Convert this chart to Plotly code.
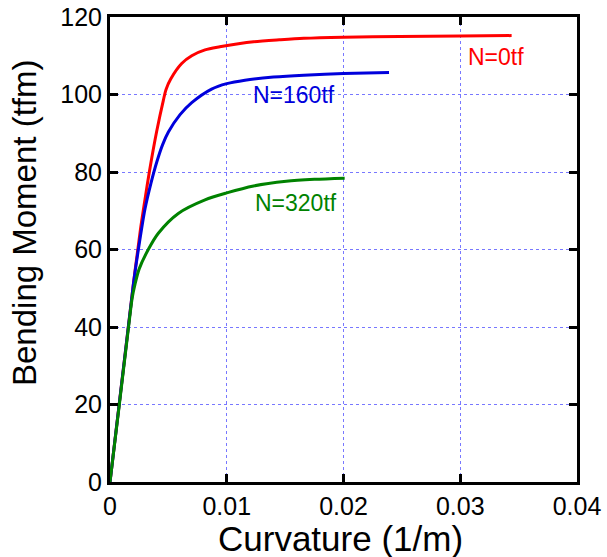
import plotly.graph_objects as go

# N = 0 tf
red_x = [0, 0.0020, 0.0026, 0.0030, 0.00337, 0.0040, 0.00457, 0.0048, 0.0052, 0.00614, 0.0070,
         0.00814, 0.0094, 0.0110, 0.0123, 0.0145, 0.0166, 0.0200, 0.0248, 0.0300, 0.0344]
red_y = [0, 51, 65, 73, 80, 90.5, 98.5, 101.3, 104, 108, 110, 111.5, 112.3, 113.1, 113.6, 114.1,
         114.5, 114.8, 115.0, 115.1, 115.2]

# N = 160 tf
blue_x = [0, 0.0020, 0.00243, 0.0030, 0.0035, 0.0040, 0.0045, 0.0050, 0.0060, 0.0070,
          0.0087, 0.0100, 0.01156, 0.0140, 0.0166, 0.0200, 0.0239]
blue_y = [0, 51, 60, 70.5, 77, 82.5, 87, 90.3, 94.8, 97.9, 101.4, 102.8, 103.7, 104.5, 105.0,
          105.4, 105.7]

# N = 320 tf
green_x = [0, 0.0008, 0.00157, 0.0019, 0.00214, 0.0025, 0.00328, 0.00414, 0.00585, 0.00814,
           0.0100, 0.0123, 0.0151, 0.0175, 0.0201]
green_y = [0, 20, 39.5, 47.5, 51, 55, 60, 64.2, 69.3, 72.8, 74.6, 76.4, 77.6, 78.1, 78.4]

labels = ["N=0tf", "N=160tf", "N=320tf"]
label_x = [0.0331, 0.0158, 0.0159]
label_y = [109.7, 99.9, 72.0]
colors = ["rgb(255,0,0)", "rgb(0,0,220)", "rgb(0,130,0)"]

x_ticks = [0, 0.01, 0.02, 0.03, 0.04]
x_tick_text = ["0", "0.01", "0.02", "0.03", "0.04"]
y_ticks = [0, 20, 40, 60, 80, 100, 120]

FONT = "Arial, Liberation Sans, sans-serif"

fig = go.Figure()
for xs, ys, c in [(red_x, red_y, colors[0]), (blue_x, blue_y, colors[1]), (green_x, green_y, colors[2])]:
    fig.add_trace(go.Scatter(x=xs, y=ys, mode="lines",
                             line=dict(color=c, width=3, shape="spline", smoothing=0.8),
                             showlegend=False, hoverinfo="skip"))

for t, lx, ly, c in zip(labels, label_x, label_y, colors):
    fig.add_annotation(x=lx, y=ly, text=t, showarrow=False,
                       font=dict(family=FONT, size=23, color=c))

# axis titles placed as paper annotations
fig.add_annotation(xref="paper", yref="paper", x=(340 - 110) / 467, y=(482 - 538) / 465,
                   text="Curvature (1/m)", showarrow=False, xanchor="center", yanchor="middle",
                   font=dict(family=FONT, size=35, color="black"))
fig.add_annotation(xref="paper", yref="paper", x=(24 - 110) / 467, y=(482 - 223) / 465,
                   text="Bending Moment (tfm)", showarrow=False, textangle=-90,
                   xanchor="center", yanchor="middle",
                   font=dict(family=FONT, size=33, color="black"))

axis_common = dict(showline=True, linecolor="black", linewidth=3, mirror="ticks",
                   ticks="inside", ticklen=8, tickwidth=3, tickcolor="black",
                   showgrid=True, gridcolor="rgb(120,120,255)", gridwidth=1, griddash="dot",
                   zeroline=False, automargin=False,
                   tickfont=dict(family=FONT, size=25, color="black"))

fig.update_xaxes(range=[0, 0.04], tickvals=x_ticks, ticktext=x_tick_text, **axis_common)
fig.update_yaxes(range=[0, 120], tickvals=y_ticks, **axis_common)

fig.update_layout(width=607, height=557, margin=dict(l=110, r=30, t=17, b=75),
                  paper_bgcolor="white", plot_bgcolor="white")

fig.write_html("out.html", config={"displayModeBar": False},
               post_script="document.body.style.margin='0';document.body.style.overflow='hidden';")
